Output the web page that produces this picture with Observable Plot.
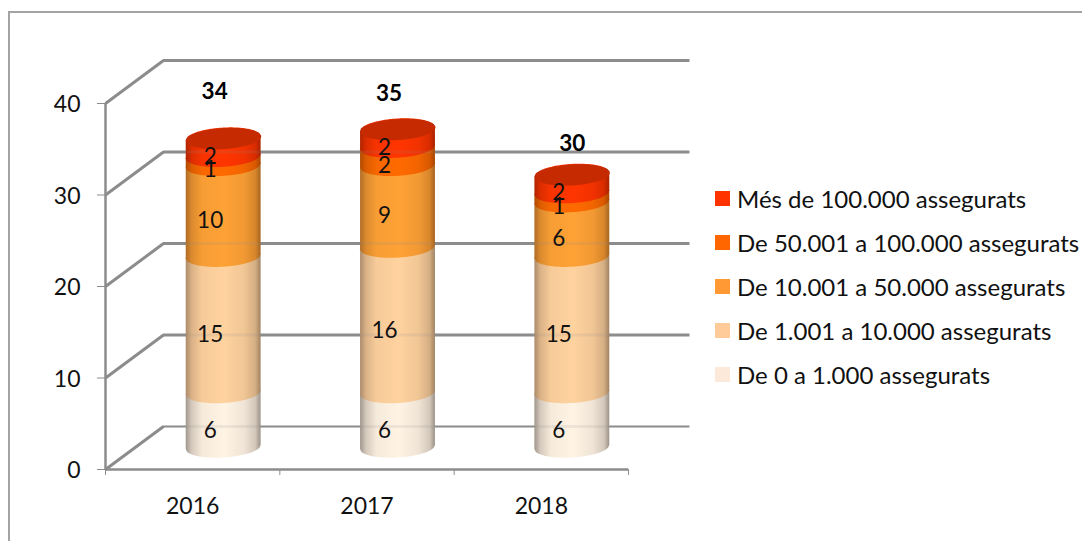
<!DOCTYPE html>
<html lang="ca">
<head>
<meta charset="utf-8">
<script src="https://cdn.jsdelivr.net/npm/d3@7"></script>
<script src="https://cdn.jsdelivr.net/npm/@observablehq/plot@0.6"></script>
<style>
  html, body { margin: 0; padding: 0; background: #fff; width: 1082px; height: 541px; overflow: hidden; }
  #page { position: relative; width: 1082px; height: 541px; overflow: hidden; font-family: Lato, sans-serif; }
  #page svg { position: absolute; left: 0; top: 0; }
  #frame { position: absolute; left: 8px; top: 11px; width: 1100px; height: 560px; border: 2px solid #a3a3a3; box-sizing: border-box; }
  #legend { position: absolute; left: 715px; top: 176px; font-size: 24px; color: #111; }
  #legend .row { display: flex; align-items: center; height: 44px; white-space: nowrap; }
  #legend .sw { width: 15px; height: 15px; margin-right: 7px; flex: none; }
</style>
</head>
<body>
<div id="page"><div id="frame"></div><div id="chart"></div><div id="legend"></div></div>
<script>
const years = ["2016", "2017", "2018"];
const seriesNames = [
  "De 0 a 1.000 assegurats",
  "De 1.001 a 10.000 assegurats",
  "De 10.001 a 50.000 assegurats",
  "De 50.001 a 100.000 assegurats",
  "Més de 100.000 assegurats"
];
const band0to1k = [6, 6, 6];
const band1kto10k = [15, 16, 15];
const band10kto50k = [10, 9, 6];
const band50kto100k = [1, 2, 1];
const bandOver100k = [2, 2, 2];
const totals = [34, 35, 30];
const yTicks = [0, 10, 20, 30, 40];
const xTicks = [0, 1, 2, 3];
const swatchColors = ["#fde9d9", "#ffcc99", "#ff9933", "#ff6600", "#ff3300"];
const shades = [
  ["#a0968c", "#fff3e4", "#9b9187"],
  ["#ac8a6a", "#ffd29e", "#a08262"],
  ["#b06c25", "#ffa236", "#a5641f"],
  ["#b04a00", "#ff6a00", "#a84400"],
  ["#b02400", "#ff3500", "#a82200"]
];

const layers = [band0to1k, band1kto10k, band10kto50k, band50kto100k, bandOver100k];
const W = 1082, H = 541, mL = 105, mR = 454, mT = 103, mB = 72;
const pxX = (W - mL - mR) / 3, pxY = (H - mT - mB) / 40;
const depthX = 0.3326, depthY = 4.7, squash = 0.993;
const RX = 37.5, RY = 10.5, ROT = -0.06;
const barDx = 31, barDy = -22;

const running = [0, 0, 0];
const tables = layers.map((vals, k) => vals.map((v, i) => {
  const row = {i, k, value: v, y1: running[i], y2: running[i] + v, cx: i + 0.5};
  running[i] += v;
  return row;
}));
const lids = years.map((_, i) => ({cx: i + 0.5, total: running[i] * squash}));

const c = Math.cos(ROT), s = Math.sin(ROT);
const xExtent = Math.sqrt(RX * RX * c * c + RY * RY * s * s);
// screen-space offset of the tilted ellipse's edge at horizontal offset x; +1 = lower edge
function rim(x, side) {
  const A = s * s / (RX * RX) + c * c / (RY * RY);
  const B = 2 * x * c * s * (1 / (RX * RX) - 1 / (RY * RY));
  const C = x * x * (c * c / (RX * RX) + s * s / (RY * RY)) - 1;
  const D = Math.max(0, B * B - 4 * A * C);
  return (-B + side * Math.sqrt(D)) / (2 * A);
}
const steps = d3.range(0, 61).map(t => -xExtent + 2 * xExtent * t / 60);
const bodyOutline = rows => rows.flatMap(r => steps.map(px => ({
  id: r.i,
  x: r.cx + px / pxX,
  lo: r.y1 * squash - rim(px, 1) / pxY,
  hi: r.y2 * squash - rim(px, -1) / pxY
})));

const tilted = {
  draw(ctx, size) {
    const rx = Math.sqrt(size / Math.PI), ry = rx * RY / RX;
    for (let t = 0; t < 60; ++t) {
      const a = t / 60 * 2 * Math.PI;
      const ex = rx * Math.cos(a), ey = ry * Math.sin(a);
      const px = ex * c - ey * s;
      const py = ex * s + ey * c;
      if (t === 0) ctx.moveTo(px, py); else ctx.lineTo(px, py);
    }
    ctx.closePath();
  }
};

function gradientDefs() {
  const defs = d3.create("svg:defs");
  shades.forEach((sh, k) => {
    const g = defs.append("linearGradient").attr("id", "cyl" + k)
      .attr("x1", "0%").attr("x2", "100%").attr("y1", "0%").attr("y2", "0%");
    [[0, sh[0]], [0.08, d3.interpolateRgb(sh[0], sh[1])(0.55)], [0.22, d3.interpolateRgb(sh[0], sh[1])(0.9)],
     [0.52, sh[1]], [0.78, d3.interpolateRgb(sh[2], sh[1])(0.85)], [0.93, d3.interpolateRgb(sh[2], sh[1])(0.55)], [1, sh[2]]]
      .forEach(([o, col]) => g.append("stop").attr("offset", o).attr("stop-color", col));
  });
  return defs.node();
}

const grey = "#8c8c8c";
const cylinderMarks = tables.map((rows, k) =>
  Plot.areaY(bodyOutline(rows), {x: "x", y1: "lo", y2: "hi", z: "id", fill: `url(#cyl${k})`, curve: "linear", dx: barDx, dy: barDy})
);

const ghostLines = lids.flatMap(t => yTicks.filter(v => v + depthY < t.total + 2.4).map(v => ({cx: t.cx, v})));
const allRows = tables.flat();

const chart = Plot.plot({
  width: W, height: H,
  marginLeft: mL, marginRight: mR, marginTop: mT, marginBottom: mB,
  x: {type: "linear", domain: [0, 3], axis: null},
  y: {domain: [0, 40], axis: null},
  style: {fontFamily: "Lato, sans-serif", background: "transparent", overflow: "visible"},
  marks: [
    gradientDefs,
    // back wall gridlines and the depth diagonals
    Plot.ruleY(yTicks, {y: v => v + depthY, x1: depthX, x2: 3 + depthX + 0.02, stroke: grey, strokeWidth: v => v === 0 ? 2 : 3}),
    Plot.link(yTicks, {x1: 0, y1: v => v, x2: depthX, y2: v => v + depthY, stroke: grey, strokeWidth: 3}),
    // front axes
    Plot.ruleX([0], {y1: 0, y2: 40, stroke: grey, strokeWidth: 2.5}),
    Plot.ruleY([0], {x1: 0, x2: 3, stroke: grey, strokeWidth: 2.5}),
    Plot.axisY({ticks: yTicks, tickSize: 8, tickFormat: () => "", stroke: grey, label: null}),
    Plot.axisX({ticks: xTicks, tickSize: 6, tickFormat: () => "", stroke: grey, label: null}),
    Plot.text(yTicks, {x: 0, y: d => d, dx: -25, dy: 1.5, text: d => String(d), textAnchor: "end", fontSize: 23, fill: "#111"}),
    Plot.text(years, {x: (d, i) => i + 0.5, y: 0, dy: 37, text: d => d, fontSize: 23, fill: "#111"}),
    // cylinders
    ...cylinderMarks,
    Plot.dot(lids, {x: "cx", y: "total", r: RX, symbol: tilted, fill: "#c62a00", dx: barDx, dy: barDy}),
    Plot.ruleY(ghostLines, {x1: d => d.cx - xExtent / pxX, x2: d => d.cx + xExtent / pxX, dx: barDx, y: d => d.v + depthY, stroke: grey, strokeOpacity: 0.14, strokeWidth: 3}),
    // segment labels
    Plot.text(allRows, {x: "cx", y: d => (d.y1 + d.y2) / 2, text: d => String(d.value), dx: 17.5, dy: -11, fontSize: 22.5, fill: "#111"}),
    // totals
    ...totals.map((t, i) => Plot.text([t], {
      x: i + 0.5, y: d => d, text: d => String(d),
      dx: [22, 22, 31][i], dy: [-67, -55, -51.5][i],
      fontSize: 22.5, fontWeight: "bold", fill: "#000"
    }))
  ]
});
document.getElementById("chart").appendChild(chart);

const legend = d3.select("#legend");
seriesNames.map((n, i) => ({n, col: swatchColors[i]})).reverse().forEach(d => {
  const row = legend.append("div").attr("class", "row");
  row.append("span").attr("class", "sw").style("background", d.col);
  row.append("span").text(d.n);
});
</script>
</body>
</html>
